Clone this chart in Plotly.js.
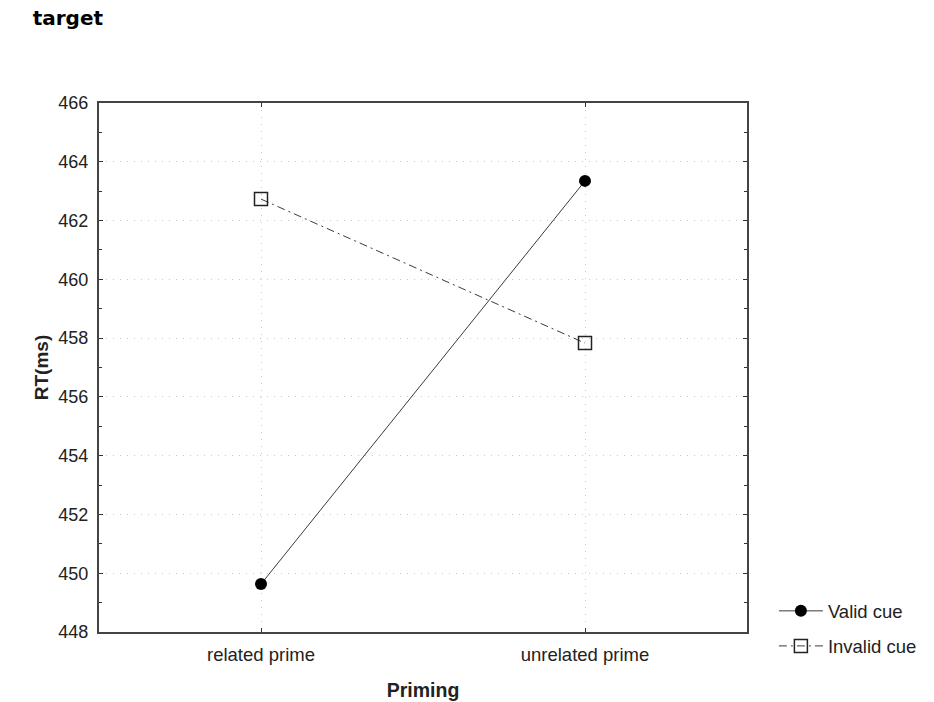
<!DOCTYPE html>
<html>
<head>
<meta charset="utf-8">
<script src="https://cdn.plot.ly/plotly-3.0.1.min.js"></script>
<style>body{margin:0;background:#fff;}#chart{width:934px;height:702px;}</style>
</head>
<body>
<div id="chart"></div>
<script>
const categories = ["related prime", "unrelated prime"];
const validCue = [449.63, 463.35];
const invalidCue = [462.73, 457.83];
const seriesNames = ["Valid cue", "Invalid cue"];
const yTicks = [448, 450, 452, 454, 456, 458, 460, 462, 464, 466];

const xIdx = categories.map((c, i) => i);

const traces = [
  {
    x: xIdx, y: validCue, name: seriesNames[0], type: "scatter", mode: "lines+markers",
    legendgroup: "a",
    line: {color: "#3a3a3a", width: 1, dash: "solid"},
    marker: {symbol: "circle", size: 12, color: "#000000"}
  },
  {
    x: xIdx, y: invalidCue, name: seriesNames[1], type: "scatter", mode: "lines+markers",
    legendgroup: "b",
    line: {color: "#3a3a3a", width: 1, dash: "8px,4px,2px,4px"},
    marker: {symbol: "square-open", size: 13, color: "#222222", line: {width: 1.5, color: "#222222"}}
  }
];

const layout = {
  width: 934, height: 702,
  paper_bgcolor: "#ffffff", plot_bgcolor: "#ffffff",
  margin: {l: 99, r: 184, t: 103, b: 70},
  font: {family: "Liberation Sans, Arial, sans-serif", size: 18, color: "#222222"},
  title: {text: "<b>target</b>", x: 0.035, xanchor: "left", y: 0.974, yanchor: "middle",
          font: {family: "DejaVu Sans, sans-serif", size: 20, color: "#000000"}},
  xaxis: {
    range: [-0.5, 1.5], tickmode: "array", tickvals: xIdx, ticktext: categories,
    showline: true, linecolor: "#444444", linewidth: 2, mirror: "ticks",
    ticks: "inside", ticklen: 4, tickcolor: "#333333",
    tickfont: {size: 18.5}, ticklabelstandoff: 5,
    showgrid: true, gridcolor: "#c8c8c8", griddash: "1px,6px", gridwidth: 1,
    zeroline: false,
    title: {text: "<b>Priming</b>", standoff: 19, font: {size: 19.5, color: "#222222"}}
  },
  yaxis: {
    range: [448, 466], tickmode: "array", tickvals: yTicks,
    showline: true, linecolor: "#444444", linewidth: 2, mirror: "ticks",
    ticks: "inside", ticklen: 4, tickcolor: "#333333",
    tickfont: {size: 18}, ticklabelstandoff: 5,
    minor: {dtick: 1, ticks: "inside", ticklen: 3, tickcolor: "#333333", showgrid: false},
    showgrid: true, gridcolor: "#c8c8c8", griddash: "1px,6px", gridwidth: 1,
    zeroline: false,
    title: {text: "<b>RT(ms)</b>", standoff: 5, font: {size: 19, color: "#222222"}}
  },
  legend: {x: 1.0415, xanchor: "left", y: 0.075, yanchor: "top", bgcolor: "rgba(0,0,0,0)",
           font: {size: 18.5, color: "#222222"}, traceorder: "grouped", tracegroupgap: 8, itemwidth: 44},
  showlegend: true
};

Plotly.newPlot("chart", traces, layout, {displayModeBar: false, staticPlot: true});
</script>
</body>
</html>
